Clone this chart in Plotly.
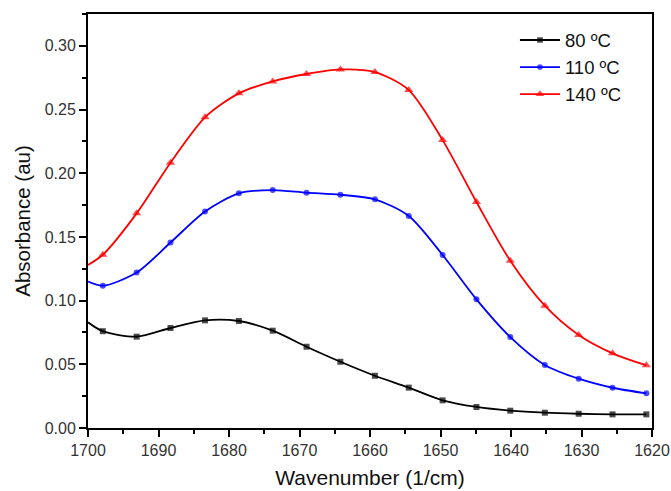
import plotly.graph_objects as go

wavenumber = [1700.0, 1697.9, 1693.1, 1688.3, 1683.4, 1678.6, 1673.8, 1669.0, 1664.2, 1659.3,
              1654.5, 1649.7, 1644.9, 1640.1, 1635.2, 1630.4, 1625.6, 1620.8]
abs_80 = [0.083, 0.076, 0.0717, 0.0785, 0.0845, 0.084, 0.0764, 0.0638, 0.052, 0.041,
          0.0317, 0.0217, 0.0165, 0.0136, 0.012, 0.0112, 0.0107, 0.0107]
abs_110 = [0.1149, 0.1117, 0.122, 0.1456, 0.170, 0.1842, 0.1868, 0.1847, 0.1831, 0.1795,
           0.1664, 0.1358, 0.101, 0.0714, 0.0495, 0.0387, 0.0316, 0.0272]
abs_140 = [0.128, 0.136, 0.1685, 0.2083, 0.2439, 0.2627, 0.2721, 0.2779, 0.2815, 0.2794,
           0.2653, 0.226, 0.1774, 0.1313, 0.096, 0.073, 0.0586, 0.0492]
series_names = ["80 ºC", "110 ºC", "140 ºC"]
colors = ["#000000", "#0000FF", "#FF0000"]
symbols = ["square", "circle", "triangle-up"]
msizes = [6, 6, 8]

FONT = "Liberation Sans, Arial, sans-serif"

fig = go.Figure()
for name, ys, c, s, ms in zip(series_names, [abs_80, abs_110, abs_140], colors, symbols, msizes):
    sizes = [0] + [ms] * (len(ys) - 1)
    fig.add_trace(go.Scatter(
        x=wavenumber, y=ys, name=name, mode="lines+markers",
        line=dict(color=c, width=1.8, shape="spline", smoothing=0.8),
        marker=dict(symbol=s, size=sizes, color=c, line=dict(width=0)),
    ))

axis_font = dict(family=FONT, size=16, color="#333333")
fig.update_layout(
    width=671, height=491,
    margin=dict(l=88, r=19, t=14, b=63, autoexpand=False),
    paper_bgcolor="white", plot_bgcolor="white",
    showlegend=True,
    legend=dict(x=0.757, y=0.982, xanchor="left", yanchor="top",
                font=dict(family=FONT, size=18.5, color="#111"),
                bgcolor="rgba(0,0,0,0)", tracegroupgap=0, itemwidth=40),
    font=dict(family=FONT),
)
fig.update_xaxes(
    range=[1700, 1620], dtick=10, tick0=1620, showgrid=False, zeroline=False,
    showline=True, linecolor="black", linewidth=2, mirror=True,
    ticks="outside", ticklen=7, tickwidth=1.5, tickcolor="black",
    minor=dict(dtick=5, ticklen=4, tickwidth=1.5, tickcolor="black", ticks="outside", showgrid=False),
    tickfont=axis_font,
    title=dict(text="Wavenumber (1/cm)", font=dict(family=FONT, size=21, color="#111"), standoff=12),
)
fig.update_yaxes(
    range=[0, 0.325], dtick=0.05, tick0=0, tickformat=".2f", showgrid=False, zeroline=False,
    showline=True, linecolor="black", linewidth=2, mirror=True,
    ticks="outside", ticklen=7, tickwidth=1.5, tickcolor="black",
    minor=dict(dtick=0.025, ticklen=4, tickwidth=1.5, tickcolor="black", ticks="outside", showgrid=False),
    tickfont=axis_font,
    title=dict(text="Absorbance (au)", font=dict(family=FONT, size=20.5, color="#111"), standoff=8),
)
fig.write_html("out.html")
